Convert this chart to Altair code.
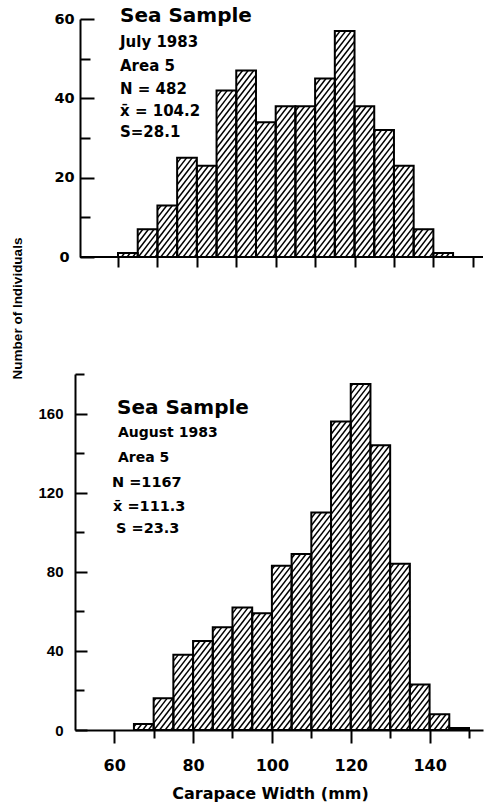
import altair as alt
import numpy as np
import pandas as pd

# ---- 5-mm carapace-width classes (lower edge, mm) and number of crabs ----
july_class = [60, 65, 70, 75, 80, 85, 90, 95, 100, 105, 110, 115, 120, 125, 130, 135, 140]
july_count = [1, 7, 13, 25, 23, 42, 47, 34, 38, 38, 45, 57, 38, 32, 23, 7, 1]

aug_class = [65, 70, 75, 80, 85, 90, 95, 100, 105, 110, 115, 120, 125, 130, 135, 140, 145]
aug_count = [3, 16, 38, 45, 52, 62, 59, 83, 89, 110, 156, 175, 144, 84, 23, 8, 1]

class_width = 5

# ---- panel annotations ----
july_notes = ["Sea Sample", "July 1983", "Area 5", "N = 482", "x\u0304 = 104.2", "S=28.1"]
aug_notes = ["Sea Sample", "August 1983", "Area 5", "N =1167", "x\u0304 =111.3", "S =23.3"]

# ---- axis ticks and labels ----
x_ticks = [60, 70, 80, 90, 100, 110, 120, 130, 140, 150]
july_y_ticks = [0, 10, 20, 30, 40, 50, 60]
july_y_labels = [0, 20, 40, 60]
aug_y_ticks = [0, 20, 40, 60, 80, 100, 120, 140, 160, 180]
aug_y_labels = [0, 40, 80, 120, 160]
y_title = "Number of Individuals"
x_title = "Carapace Width (mm)"

# ---- layout ----
W = 408                 # plot width (px) of both panels
PX_PER_MM = 3.942
TOP_H, BOT_H = 238, 356
TOP_X0, BOT_X0 = 49.09, 50.05
TOP_YMAX, BOT_YMAX = 60, 180
HATCH_PERIOD, HATCH_SLOPE = 5.6, 1.3
BLACK = "black"


def hatch_segments(classes, counts, x0, y_max, h):
    """Diagonal '/' hatch lines clipped to each bar, in data units."""
    ky = h / y_max
    step = HATCH_SLOPE * HATCH_PERIOD
    rows = []
    for lo, n in zip(classes, counts):
        a = (lo - x0) * PX_PER_MM
        b = (lo + class_width - x0) * PX_PER_MM
        top, bot = h - n * ky, h
        for k in range(int(np.ceil((HATCH_SLOPE * a + top) / step)),
                       int(np.floor((HATCH_SLOPE * b + bot) / step)) + 1):
            c = k * step
            pa = max(a, (c - bot) / HATCH_SLOPE)
            pb = min(b, (c - top) / HATCH_SLOPE)
            if pb - pa < 0.3:
                continue
            rows.append({
                "x": x0 + pa / PX_PER_MM,
                "x2": x0 + pb / PX_PER_MM,
                "y": (h - (c - HATCH_SLOPE * pa)) / ky,
                "y2": (h - (c - HATCH_SLOPE * pb)) / ky,
            })
    return pd.DataFrame(rows)


def note(text, px, py, size, font="DejaVu Sans", angle=0, align="left", baseline="alphabetic"):
    return alt.Chart(pd.DataFrame({"t": [text]})).mark_text(
        align=align, baseline=baseline, font=font, fontWeight="bold",
        fontSize=size, color=BLACK, angle=angle,
    ).encode(text="t:N", x=alt.value(px), y=alt.value(py))


def panel(classes, counts, x0, y_max, h, x_axis, label_axis, tick_axis, extra):
    xs = alt.Scale(domain=[x0, x0 + W / PX_PER_MM], nice=False, zero=False, padding=0)
    ys = alt.Scale(domain=[0, y_max], nice=False, padding=0)
    bars_df = pd.DataFrame({
        "lo": classes,
        "hi": [c + class_width for c in classes],
        "n": counts,
        "base": [0] * len(classes),
    })
    hatch = alt.Chart(hatch_segments(classes, counts, x0, y_max, h)).mark_rule(
        color=BLACK, strokeWidth=1.5, strokeCap="butt"
    ).encode(
        x=alt.X("x:Q", scale=xs, axis=x_axis),
        x2="x2:Q",
        y=alt.Y("y:Q", scale=ys, axis=tick_axis),
        y2="y2:Q",
    )
    bars = alt.Chart(bars_df).mark_rect(
        fillOpacity=0, stroke=BLACK, strokeWidth=2
    ).encode(
        x=alt.X("lo:Q", scale=xs, axis=x_axis),
        x2="hi:Q",
        y=alt.Y("n:Q", scale=ys, axis=label_axis),
        y2="base:Q",
    )
    return alt.layer(hatch, bars, *extra).resolve_axis(y="independent").properties(
        width=W, height=h
    )


# ---- July panel ----
top_x_axis = alt.Axis(values=x_ticks, domain=False, labels=False, ticks=True,
                      tickSize=10, tickWidth=2, tickColor=BLACK, title=None, grid=False)
top_label_axis = alt.Axis(orient="left", values=july_y_labels, offset=-5, ticks=False,
                          tickSize=0, domain=True, domainColor=BLACK, domainWidth=2,
                          labelAlign="center", labelBaseline="middle", labelPadding=16,
                          labelFont="DejaVu Sans", labelFontWeight="bold",
                          labelFontSize=14.5, labelColor=BLACK, labelOverlap=False,
                          title=None, grid=False)
top_tick_axis = alt.Axis(orient="right", offset=-(W - 5), values=july_y_ticks,
                         domain=False, labels=False, ticks=True, tickColor=BLACK,
                         tickWidth=2,
                         tickSize={"condition": {"test": "datum.value % 20 === 0", "value": 14},
                                   "value": 10},
                         title=None, grid=False)

top_baseline = alt.Chart(pd.DataFrame({"z": [0]})).mark_rule(
    color=BLACK, strokeWidth=2
).encode(x=alt.value(5), x2=alt.value(W), y=alt.value(TOP_H))

top_text = [
    note(july_notes[0], 45, 3.2, 20),
    note(july_notes[1], 45, 28.2, 15),
    note(july_notes[2], 45, 51.5, 15),
    note(july_notes[3], 45, 74.8, 15),
    note(july_notes[4], 45, 96.5, 15),
    note(july_notes[5], 45, 118.2, 15),
    note(y_title, -57, 289.5, 13.5, font="Liberation Sans", angle=270,
         align="center", baseline="middle"),
]

top = panel(july_class, july_count, TOP_X0, TOP_YMAX, TOP_H,
            top_x_axis, top_label_axis, top_tick_axis, [top_baseline] + top_text)

# ---- August panel ----
bot_x_axis = alt.Axis(values=x_ticks, domain=True, domainColor=BLACK, domainWidth=2,
                      ticks=True, tickWidth=2, tickColor=BLACK,
                      tickSize={"condition": {"test": "datum.value % 20 === 0", "value": 13},
                                "value": 8},
                      labelExpr="datum.value % 20 === 0 ? datum.label : ''",
                      labelFont="DejaVu Sans", labelFontWeight="bold", labelFontSize=16,
                      labelColor=BLACK, labelBaseline="alphabetic", labelPadding=27.5,
                      labelOverlap=False,
                      title=x_title, titleFont="DejaVu Sans", titleFontWeight="bold",
                      titleFontSize=16, titleColor=BLACK, titleX=195, titleY=68.5,
                      titleBaseline="alphabetic", titleAlign="center", grid=False)
bot_label_axis = alt.Axis(orient="left", values=aug_y_labels, ticks=False, tickSize=0,
                          domain=True, domainColor=BLACK, domainWidth=2,
                          labelAlign="right", labelBaseline="middle", labelPadding=12,
                          labelFont="Liberation Sans", labelFontWeight="bold",
                          labelFontSize=15, labelColor=BLACK, labelOverlap=False,
                          title=None, grid=False)
bot_tick_axis = alt.Axis(orient="right", offset=-W, values=aug_y_ticks,
                         domain=False, labels=False, ticks=True, tickColor=BLACK,
                         tickWidth=2,
                         tickSize={"condition": {"test": "datum.value % 40 === 0", "value": 12},
                                   "value": 9},
                         title=None, grid=False)

bot_text = [
    note(aug_notes[0], 42, 39.5, 20),
    note(aug_notes[1], 43, 63.2, 14),
    note(aug_notes[2], 43, 88.2, 14),
    note(aug_notes[3], 37, 113.2, 14.5),
    note(aug_notes[4], 38, 136.5, 14.5),
    note(aug_notes[5], 41, 159.2, 14.5),
]

bottom = panel(aug_class, aug_count, BOT_X0, BOT_YMAX, BOT_H,
               bot_x_axis, bot_label_axis, bot_tick_axis, bot_text)

chart = alt.vconcat(top, bottom, spacing=117, bounds="flush").properties(
    padding={"left": 11, "top": 6, "right": 0, "bottom": 4},
    background="white",
).configure_view(stroke=None)

chart.save("out.html", embed_options={"renderer": "svg", "actions": False})
